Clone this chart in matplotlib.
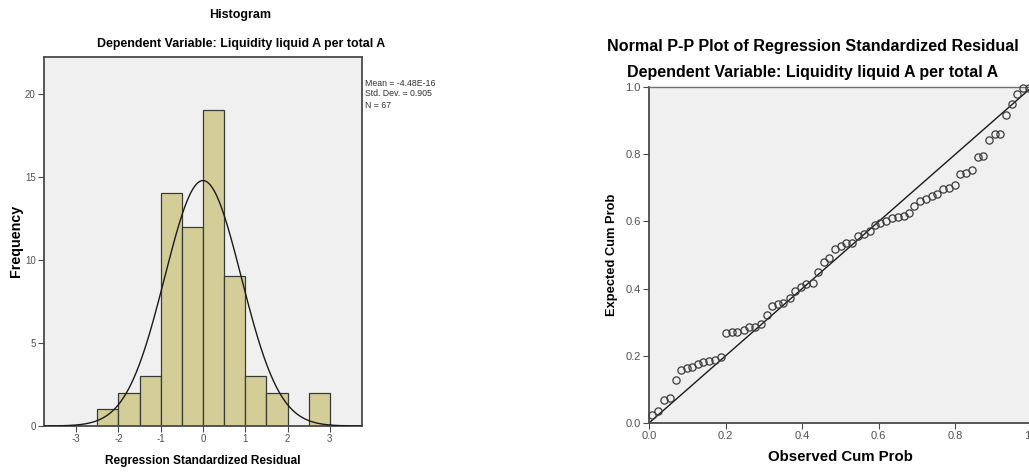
import numpy as np
import matplotlib
matplotlib.use("Agg")
import matplotlib.pyplot as plt

# ---------------- data ----------------
bin_edges = [-2.5, -2.0, -1.5, -1.0, -0.5, 0.0, 0.5, 1.0, 1.5, 2.0, 2.5, 3.0]
bin_counts = [1, 2, 3, 14, 12, 19, 9, 3, 2, 0, 2]
hist_mean = -4.48e-16
hist_sd = 0.905
hist_n = 67
hist_xticks = [-3, -2, -1, 0, 1, 2, 3]
hist_yticks = [0, 5, 10, 15, 20]

observed_cum = [0.008, 0.024, 0.039, 0.054, 0.070, 0.083, 0.098, 0.113, 0.128, 0.142,
                0.157, 0.172, 0.188, 0.201, 0.216, 0.231, 0.248, 0.262, 0.277, 0.293,
                0.307, 0.321, 0.336, 0.351, 0.367, 0.382, 0.397, 0.410, 0.427, 0.441,
                0.456, 0.471, 0.486, 0.501, 0.515, 0.531, 0.545, 0.561, 0.576, 0.590,
                0.604, 0.619, 0.634, 0.650, 0.665, 0.679, 0.693, 0.708, 0.724, 0.738,
                0.753, 0.768, 0.783, 0.798, 0.812, 0.828, 0.843, 0.858, 0.873, 0.888,
                0.903, 0.917, 0.932, 0.948, 0.962, 0.977, 0.991]
expected_cum = [0.023, 0.035, 0.069, 0.074, 0.127, 0.158, 0.163, 0.168, 0.175, 0.182,
                0.185, 0.188, 0.195, 0.269, 0.270, 0.270, 0.277, 0.287, 0.287, 0.295,
                0.322, 0.347, 0.354, 0.358, 0.371, 0.394, 0.406, 0.413, 0.416, 0.449,
                0.478, 0.492, 0.518, 0.527, 0.535, 0.537, 0.556, 0.562, 0.572, 0.589,
                0.596, 0.602, 0.611, 0.614, 0.616, 0.626, 0.647, 0.661, 0.666, 0.676,
                0.681, 0.695, 0.698, 0.708, 0.741, 0.745, 0.754, 0.792, 0.795, 0.842,
                0.859, 0.861, 0.918, 0.949, 0.980, 0.997, 0.998]
pp_ticks = [0.0, 0.2, 0.4, 0.6, 0.8, 1.0]
pp_ticklabels = ["0.0", "0.2", "0.4", "0.6", "0.8", "1.0"]

title_hist = "Histogram"
subtitle = "Dependent Variable: Liquidity liquid A per total A"
title_pp = "Normal P-P Plot of Regression Standardized Residual"

# ---------------- styling ----------------
W, H = 1029, 472
arial = ['Liberation Sans', 'DejaVu Sans']
bg = '#f0f0f0'
bar_color = '#d3ce97'
spine_col = '#4a4a4a'
tick_col = '#505050'

fig = plt.figure(figsize=(W / 100, H / 100), dpi=100)
fig.patch.set_facecolor('white')

def fx(px):
    return px / W

def fy(py):
    return 1 - py / H

# ---------------- histogram ----------------
axh = fig.add_axes([fx(44), fy(426), fx(362) - fx(44), fy(57) - fy(426)])
axh.set_facecolor(bg)
lefts = bin_edges[:-1]
widths = np.diff(bin_edges)
axh.bar(lefts, bin_counts, width=widths, align='edge', color=bar_color,
        edgecolor='#3a3a3a', linewidth=0.9, zorder=2)
xs = np.linspace(-3.76, 3.76, 400)
bw = widths[0]
curve = hist_n * bw / (hist_sd * np.sqrt(2 * np.pi)) * np.exp(-0.5 * ((xs - hist_mean) / hist_sd) ** 2)
axh.plot(xs, curve, color='#1a1a1a', linewidth=1.0, zorder=3)
axh.set_xlim(-3.76, 3.76)
axh.set_ylim(0, 22.2)
axh.set_xticks(hist_xticks)
axh.set_yticks(hist_yticks)
axh.set_xticklabels([str(t) for t in hist_xticks], fontfamily=arial, fontsize=7, color=tick_col)
axh.set_yticklabels([str(t) for t in hist_yticks], fontfamily=arial, fontsize=7, color=tick_col)
axh.tick_params(axis='both', direction='out', length=4, width=0.8, color=spine_col, pad=2)
for s in axh.spines.values():
    s.set_color(spine_col)
    s.set_linewidth(1.3)
axh.set_xlabel("Regression Standardized Residual", fontfamily=arial, fontsize=8.6,
               fontweight='bold', labelpad=8)
fig.text(fx(16), fy(241), "Frequency", rotation=90, ha='center', va='center',
         fontfamily=arial, fontsize=10.3, fontweight='bold')

fig.text(fx(240), fy(15), title_hist, ha='center', va='center', fontfamily=arial,
         fontsize=9, fontweight='bold')
fig.text(fx(241), fy(44), subtitle, ha='center', va='center', fontfamily=arial,
         fontsize=8.9, fontweight='bold')
stats = ["Mean = -4.48E-16", f"Std. Dev. = {hist_sd:.3f}", f"N = {hist_n}"]
for i, s in enumerate(stats):
    fig.text(fx(365), fy(83 + 11 * i), s, ha='left', va='center', fontfamily=arial,
             fontsize=6.3, color='#303030')

# ---------------- P-P plot ----------------
axp = fig.add_axes([fx(649), fy(423), fx(1032) - fx(649), fy(87) - fy(423)])
axp.set_facecolor(bg)
axp.plot([0, 1], [0, 1], color='#1a1a1a', linewidth=1.0, zorder=2)
axp.plot(observed_cum, expected_cum, linestyle='none', marker='o', markersize=5.2,
         markerfacecolor='none', markeredgecolor='#3c3c3c', markeredgewidth=0.9, zorder=3,
         clip_on=False)
axp.set_xlim(0, 1)
axp.set_ylim(0, 1)
axp.set_xticks(pp_ticks)
axp.set_yticks(pp_ticks)
axp.set_xticklabels(pp_ticklabels, fontfamily=arial, fontsize=8, color=tick_col)
axp.set_yticklabels(pp_ticklabels, fontfamily=arial, fontsize=8, color=tick_col)
axp.tick_params(axis='both', direction='out', length=4, width=0.8, color=spine_col, pad=2)
for s in axp.spines.values():
    s.set_color(spine_col)
    s.set_linewidth(1.3)
axp.spines['top'].set_color('#707070')
axp.spines['top'].set_linewidth(1.0)
axp.set_xlabel("Observed Cum Prob", fontfamily=arial, fontsize=10.8, fontweight='bold', labelpad=6)
axp.set_ylabel("Expected Cum Prob", fontfamily=arial, fontsize=9.3, fontweight='bold', labelpad=5)

fig.text(fx(813), fy(47), title_pp, ha='center', va='center', fontfamily=arial,
         fontsize=11.6, fontweight='bold')
fig.text(fx(813), fy(73), subtitle, ha='center', va='center', fontfamily=arial,
         fontsize=11.5, fontweight='bold')

fig.savefig("out.png", dpi=100)
